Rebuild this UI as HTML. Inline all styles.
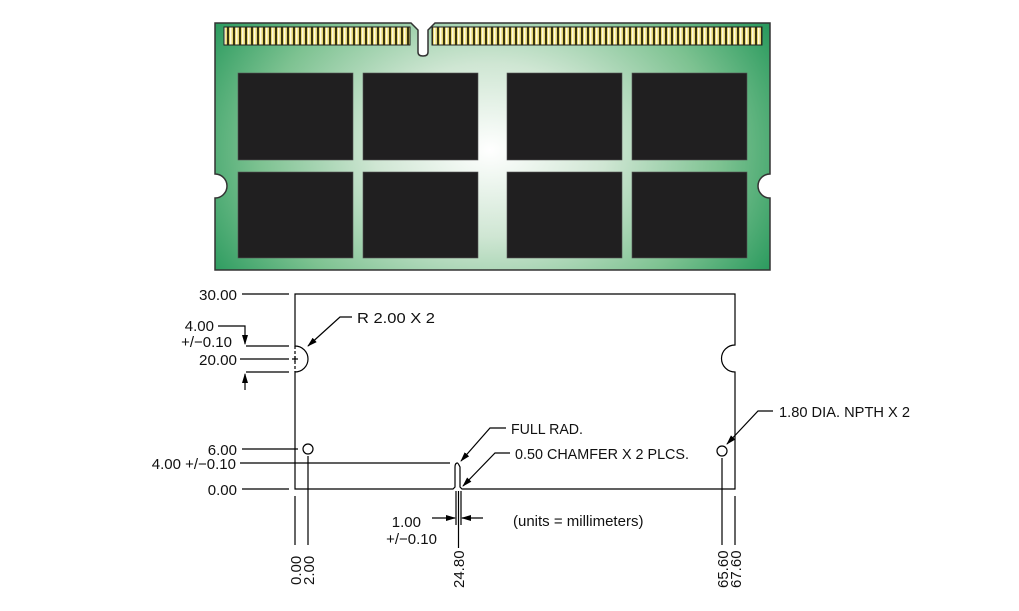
<!DOCTYPE html>
<html><head><meta charset="utf-8"><style>
html,body{margin:0;padding:0;background:#fff}
svg{display:block}
text{font-family:"Liberation Sans Narrow","Liberation Sans",sans-serif;font-size:15px;fill:#111}
</style></head><body>
<svg width="1019" height="611" viewBox="0 0 1019 611" xmlns="http://www.w3.org/2000/svg">
<defs>
<radialGradient id="g" cx="490" cy="150" r="330" gradientUnits="userSpaceOnUse" gradientTransform="translate(490 150) scale(1 0.75) translate(-490 -150)">
<stop offset="0" stop-color="#ffffff"/>
<stop offset="0.35" stop-color="#cfe6d3"/>
<stop offset="0.7" stop-color="#7dc291"/>
<stop offset="1" stop-color="#24975a"/>
</radialGradient>
<pattern id="pin" width="6" height="18" patternUnits="userSpaceOnUse">
<rect width="6" height="18" fill="#3a3510"/>
<rect x="1" width="4" height="18" fill="#e8d873"/>
<rect x="2" width="1.5" height="18" fill="#fffbe0"/>
</pattern>
<marker id="a" markerWidth="10" markerHeight="8" refX="9" refY="4" orient="auto" markerUnits="userSpaceOnUse">
<path d="M0,1 L10,4 L0,7 Z" fill="#000"/>
</marker>
</defs>
<path d="M215,23 L411,23 L418,30 L418,52 Q418,56 423,56 Q428,56 428,52 L428,30 L435,23 L770,23 L770,174 A12,12 0 0 0 770,198 L770,270 L215,270 L215,198 A12,12 0 0 0 215,174 Z" fill="url(#g)" stroke="#333" stroke-width="1.5"/>
<rect x="224" y="27" width="186" height="18" fill="url(#pin)" stroke="#222" stroke-width="1"/>
<rect x="432" y="27" width="330" height="18" fill="url(#pin)" stroke="#222" stroke-width="1"/>
<g fill="#201f20" stroke="#555" stroke-width="0.6">
<rect x="238" y="73" width="115" height="87"/><rect x="363" y="73" width="115" height="87"/>
<rect x="507" y="73" width="115" height="87"/><rect x="632" y="73" width="115" height="87"/>
<rect x="238" y="172" width="115" height="86"/><rect x="363" y="172" width="115" height="86"/>
<rect x="507" y="172" width="115" height="86"/><rect x="632" y="172" width="115" height="86"/>
</g>
<g stroke="#000" stroke-width="1.2" fill="none">
<path d="M295,294 L735,294 L735,345 A13,13 0 0 0 735,372 L735,489 L462,489 L460,487 L460,467 Q458,463 457.5,463 Q455,463 455,467 L455,487 L453,489 L295,489 L295,372 A13,13 0 0 0 295,346 Z"/>
<path d="M295,346 L295,372" stroke-dasharray="3,2"/>
<circle cx="308" cy="449" r="5"/>
<circle cx="722" cy="451" r="5"/>
<line x1="242" y1="294" x2="289" y2="294"/>
<line x1="246" y1="346" x2="289" y2="346"/>
<line x1="240" y1="359" x2="289" y2="359"/>
<line x1="246" y1="372" x2="289" y2="372"/>
<line x1="242" y1="449" x2="298" y2="449"/>
<line x1="240" y1="463" x2="450" y2="463"/>
<line x1="242" y1="489" x2="289" y2="489"/>
<line x1="292" y1="359" x2="298" y2="359"/><line x1="295" y1="356" x2="295" y2="362"/>
<path d="M218,326 L245,326 L245,344" marker-end="url(#a)"/>
<line x1="245" y1="390" x2="245" y2="374" marker-end="url(#a)"/>
<line x1="295" y1="496" x2="295" y2="545"/>
<line x1="308" y1="456" x2="308" y2="545"/>
<line x1="456" y1="491" x2="456" y2="525"/>
<line x1="461" y1="491" x2="461" y2="525"/>
<line x1="458.5" y1="491" x2="458.5" y2="548"/>
<line x1="722" y1="458" x2="722" y2="545"/>
<line x1="735" y1="496" x2="735" y2="545"/>
<line x1="432" y1="518" x2="455" y2="518" marker-end="url(#a)"/>
<line x1="483" y1="518" x2="462" y2="518" marker-end="url(#a)"/>
<path d="M352,317 L340,317 L308,346" marker-end="url(#a)"/>
<path d="M506,428 L490,428 L461,461" marker-end="url(#a)"/>
<path d="M510,453 L495,453 L463,486" marker-end="url(#a)"/>
<path d="M773,411 L758,411 L727,444" marker-end="url(#a)"/>
</g>
<g transform="scale(1,1)">
<text x="237" y="300" text-anchor="end" textLength="38" lengthAdjust="spacingAndGlyphs">30.00</text>
<text x="214" y="331" text-anchor="end">4.00</text>
<text x="232" y="347" text-anchor="end">+/−0.10</text>
<text x="237" y="365" text-anchor="end" textLength="38" lengthAdjust="spacingAndGlyphs">20.00</text>
<text x="237" y="455" text-anchor="end">6.00</text>
<text x="236" y="469" text-anchor="end">4.00 +/−0.10</text>
<text x="237" y="495" text-anchor="end">0.00</text>
<text x="357" y="323" textLength="78" lengthAdjust="spacingAndGlyphs">R 2.00 X 2</text>
<text x="511" y="434" textLength="72" lengthAdjust="spacingAndGlyphs">FULL RAD.</text>
<text x="515" y="459" textLength="174" lengthAdjust="spacingAndGlyphs">0.50 CHAMFER X 2 PLCS.</text>
<text x="779" y="417" textLength="131" lengthAdjust="spacingAndGlyphs">1.80 DIA. NPTH X 2</text>
<text x="421" y="527" text-anchor="end">1.00</text>
<text x="437" y="544" text-anchor="end">+/−0.10</text>
<text x="513" y="526" style="font-family:'Liberation Sans',sans-serif;font-size:15px">(units = millimeters)</text>
<text transform="translate(301,585) rotate(-90)">0.00</text>
<text transform="translate(314,585) rotate(-90)">2.00</text>
<text transform="translate(464,588) rotate(-90)">24.80</text>
<text transform="translate(728,588) rotate(-90)">65.60</text>
<text transform="translate(741,588) rotate(-90)">67.60</text>
</g>
</svg>
</body></html>
